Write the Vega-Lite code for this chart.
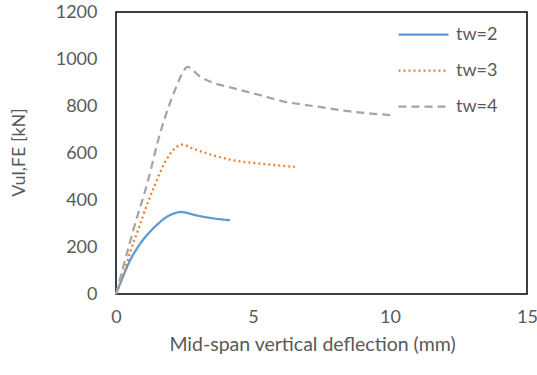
{
  "$schema": "https://vega.github.io/schema/vega-lite/v6.json",
  "width": 411,
  "height": 282,
  "autosize": {"type": "none"},
  "padding": {"left": 116, "top": 12, "right": 10, "bottom": 81},
  "background": "white",
  "config": {
    "view": {"stroke": "#000000", "strokeWidth": 1.5},
    "font": "Lato"
  },
  "data": {
    "values": [
      {"series": "tw=2", "x": 0, "y": 0},
      {"series": "tw=2", "x": 0.2, "y": 58},
      {"series": "tw=2", "x": 0.5, "y": 140},
      {"series": "tw=2", "x": 0.8, "y": 200},
      {"series": "tw=2", "x": 1.14, "y": 252},
      {"series": "tw=2", "x": 1.5, "y": 295},
      {"series": "tw=2", "x": 1.8, "y": 324},
      {"series": "tw=2", "x": 2.1, "y": 342},
      {"series": "tw=2", "x": 2.36, "y": 349},
      {"series": "tw=2", "x": 2.6, "y": 345},
      {"series": "tw=2", "x": 2.82, "y": 338},
      {"series": "tw=2", "x": 3.43, "y": 324},
      {"series": "tw=2", "x": 4.16, "y": 314},
      {"series": "tw=3", "x": 0, "y": 0},
      {"series": "tw=3", "x": 0.29, "y": 90},
      {"series": "tw=3", "x": 0.54, "y": 186},
      {"series": "tw=3", "x": 0.84, "y": 284},
      {"series": "tw=3", "x": 1.14, "y": 383},
      {"series": "tw=3", "x": 1.39, "y": 455},
      {"series": "tw=3", "x": 1.69, "y": 538},
      {"series": "tw=3", "x": 2.0, "y": 600},
      {"series": "tw=3", "x": 2.2, "y": 625},
      {"series": "tw=3", "x": 2.42, "y": 636},
      {"series": "tw=3", "x": 2.78, "y": 620},
      {"series": "tw=3", "x": 3.43, "y": 594},
      {"series": "tw=3", "x": 4.28, "y": 569},
      {"series": "tw=3", "x": 5.4, "y": 553},
      {"series": "tw=3", "x": 6.53, "y": 541},
      {"series": "tw=4", "x": 0, "y": 0},
      {"series": "tw=4", "x": 0.23, "y": 100},
      {"series": "tw=4", "x": 0.66, "y": 284},
      {"series": "tw=4", "x": 1.14, "y": 470},
      {"series": "tw=4", "x": 1.6, "y": 680},
      {"series": "tw=4", "x": 1.9, "y": 790},
      {"series": "tw=4", "x": 2.18, "y": 876},
      {"series": "tw=4", "x": 2.45, "y": 945},
      {"series": "tw=4", "x": 2.6, "y": 966},
      {"series": "tw=4", "x": 3.07, "y": 925},
      {"series": "tw=4", "x": 3.43, "y": 904},
      {"series": "tw=4", "x": 4.28, "y": 876},
      {"series": "tw=4", "x": 5.2, "y": 848},
      {"series": "tw=4", "x": 6.1, "y": 820},
      {"series": "tw=4", "x": 7.3, "y": 798},
      {"series": "tw=4", "x": 8.54, "y": 777},
      {"series": "tw=4", "x": 9.4, "y": 767},
      {"series": "tw=4", "x": 10.15, "y": 760}
    ]
  },
  "mark": {"type": "line", "strokeWidth": 2.25, "interpolate": "monotone"},
  "encoding": {
    "x": {
      "field": "x", "type": "quantitative",
      "scale": {"domain": [0, 15], "nice": false},
      "axis": {
        "values": [0, 5, 10, 15], "grid": false, "ticks": false, "domain": false,
        "labelFontSize": 18, "labelColor": "#595959", "labelPadding": 14,
        "labelFlush": false, "format": "d",
        "title": "Mid-span vertical deflection (mm)", "titleFontSize": 19.5,
        "titleColor": "#595959", "titleFontWeight": "normal", "titlePadding": 9,
        "titleX": 196
      }
    },
    "y": {
      "field": "y", "type": "quantitative",
      "scale": {"domain": [0, 1200], "nice": false},
      "axis": {
        "values": [0, 200, 400, 600, 800, 1000, 1200], "grid": false, "ticks": false, "domain": false,
        "labelFontSize": 18, "labelColor": "#595959", "labelPadding": 19,
        "labelFlush": false, "format": "d",
        "title": "Vul,FE [kN]", "titleFontSize": 18, "titleColor": "#595959",
        "titleFontWeight": "normal", "titleX": -88, "titleY": 140
      }
    },
    "color": {
      "field": "series", "type": "nominal",
      "scale": {"domain": ["tw=2", "tw=3", "tw=4"], "range": ["#5B9BD5", "#ED7D31", "#A5A5A5"]},
      "legend": {
        "title": null, "orient": "none", "legendX": 281, "legendY": -4,
        "symbolType": "stroke", "symbolSize": 2500, "symbolStrokeWidth": 2.25,
        "labelFontSize": 18, "labelColor": "#595959", "labelOffset": 6,
        "rowPadding": 0, "labelLimit": 200
      }
    },
    "strokeDash": {
      "field": "series", "type": "nominal",
      "scale": {"domain": ["tw=2", "tw=3", "tw=4"], "range": [[1, 0], [2, 3], [8, 5]]},
      "legend": null
    }
  }
}
